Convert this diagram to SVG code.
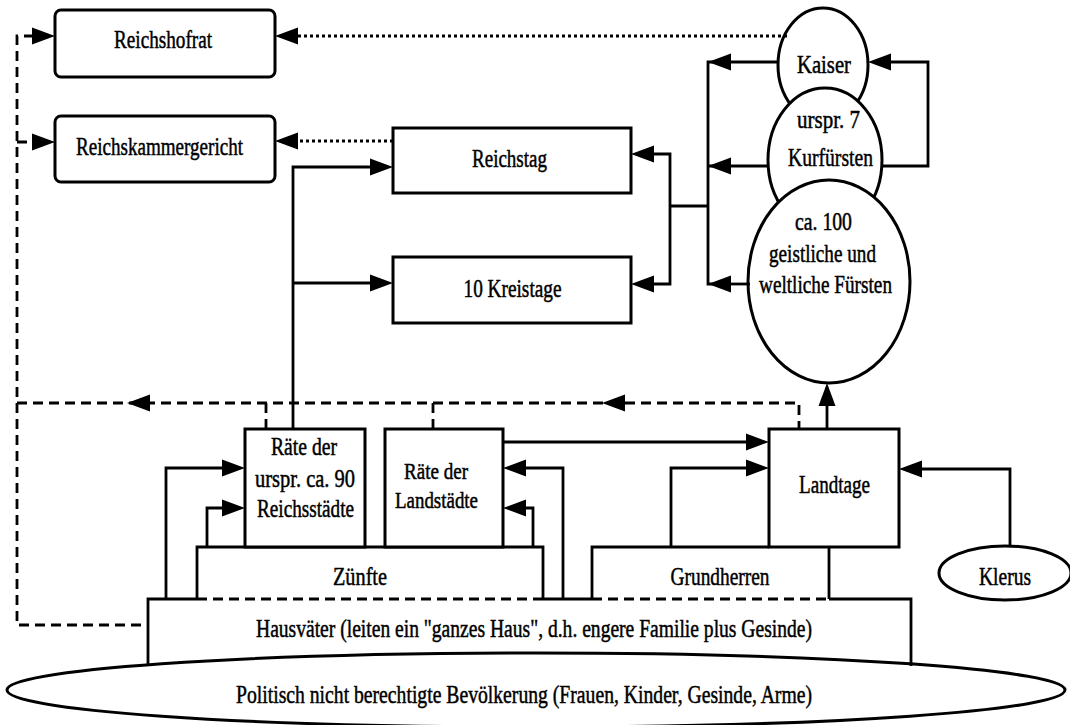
<svg xmlns="http://www.w3.org/2000/svg" xmlns:xlink="http://www.w3.org/1999/xlink" width="1070" height="725" viewBox="0 0 1070 725">
<style>
  .ln{fill:none;stroke:#000;stroke-width:2.8;stroke-linejoin:miter}
  .da{fill:none;stroke:#000;stroke-width:2.8;stroke-dasharray:10,6}
  .dt{fill:none;stroke:#000;stroke-width:2.8;stroke-dasharray:3,3}
  .bx{fill:#fff;stroke:#000;stroke-width:3}
  .t{font-family:"Liberation Serif","Times New Roman",serif;font-size:26px;fill:#000;stroke:#000;stroke-width:0.5;text-anchor:middle}
  .s{font-size:24px}
</style>
<defs>
  <path id="ah" d="M0,0 L-23,-8.5 L-23,8.5 Z" fill="#000"/>
</defs>
<rect width="1070" height="725" fill="#fff"/>

<g id="bevoelkerung">
  <ellipse cx="536" cy="690" rx="529" ry="37" class="bx"/>
  <text class="t" x="524" y="703" textLength="576" lengthAdjust="spacingAndGlyphs">Politisch nicht berechtigte Bevölkerung (Frauen, Kinder, Gesinde, Arme)</text>
</g>

<g id="hausvaeter">
  <path class="ln" d="M148,665 V599 H197"/>
  <path class="da" d="M197,599 H543"/>
  <path class="ln" d="M543,599 H592"/>
  <path class="da" d="M592,599 H829"/>
  <path class="ln" d="M829,599 H911 V666"/>
  <text class="t" x="534" y="637" textLength="556" lengthAdjust="spacingAndGlyphs">Hausväter (leiten ein "ganzes Haus", d.h. engere Familie plus Gesinde)</text>
</g>

<g id="zuenfte">
  <path class="ln" d="M197,599 V547 H543 V599"/>
  <text class="t" x="360" y="585" textLength="54" lengthAdjust="spacingAndGlyphs">Zünfte</text>
</g>

<g id="grundherren">
  <path class="ln" d="M592,599 V547 H769 M829,547 V599"/>
  <text class="t" x="720" y="585" textLength="99" lengthAdjust="spacingAndGlyphs">Grundherren</text>
</g>

<g id="reichsstaedte">
  <rect x="245" y="429" width="120" height="118" class="bx"/>
  <text class="t" x="304" y="455" textLength="66" lengthAdjust="spacingAndGlyphs">Räte der</text>
  <text class="t" x="305" y="487" textLength="100" lengthAdjust="spacingAndGlyphs">urspr. ca. 90</text>
  <text class="t" x="305.5" y="517" textLength="97" lengthAdjust="spacingAndGlyphs">Reichsstädte</text>
</g>

<g id="landstaedte">
  <rect x="385" y="429" width="118" height="118" class="bx"/>
  <text class="t s" x="436" y="479" textLength="64" lengthAdjust="spacingAndGlyphs">Räte der</text>
  <text class="t s" x="436.5" y="508" textLength="83" lengthAdjust="spacingAndGlyphs">Landstädte</text>
</g>

<g id="landtage">
  <rect x="769" y="429" width="130" height="118" class="bx"/>
  <text class="t" x="834.5" y="493" textLength="71" lengthAdjust="spacingAndGlyphs">Landtage</text>
</g>

<g id="klerus">
  <ellipse cx="1005" cy="573" rx="66" ry="27" class="bx"/>
  <text class="t" x="1005" y="585" textLength="52" lengthAdjust="spacingAndGlyphs">Klerus</text>
</g>

<g id="reichshofrat">
  <rect x="55" y="10" width="220" height="67" rx="6" class="bx"/>
  <text class="t" x="163" y="48" textLength="98" lengthAdjust="spacingAndGlyphs">Reichshofrat</text>
</g>

<g id="reichskammergericht">
  <rect x="55" y="116" width="220" height="66" rx="6" class="bx"/>
  <text class="t" x="159.5" y="155" textLength="167" lengthAdjust="spacingAndGlyphs">Reichskammergericht</text>
</g>

<g id="reichstag">
  <rect x="393" y="128" width="238" height="65" class="bx"/>
  <text class="t" x="509.5" y="167" textLength="75" lengthAdjust="spacingAndGlyphs">Reichstag</text>
</g>

<g id="kreistage">
  <rect x="393" y="257" width="238" height="66" class="bx"/>
  <text class="t" x="512.5" y="297" textLength="98" lengthAdjust="spacingAndGlyphs">10 Kreistage</text>
</g>

<g id="kaiser">
  <ellipse cx="823" cy="65" rx="45" ry="57" class="bx"/>
  <text class="t" x="824" y="73" textLength="54" lengthAdjust="spacingAndGlyphs">Kaiser</text>
</g>

<g id="kurfuersten">
  <ellipse cx="825" cy="160" rx="57" ry="72" class="bx"/>
  <text class="t" x="828.5" y="128" textLength="63" lengthAdjust="spacingAndGlyphs">urspr. 7</text>
  <text class="t" x="830.5" y="166" textLength="85" lengthAdjust="spacingAndGlyphs">Kurfürsten</text>
</g>

<g id="fuersten">
  <ellipse cx="829" cy="281.5" rx="81" ry="101.5" class="bx"/>
  <text class="t" x="823.5" y="230" textLength="57" lengthAdjust="spacingAndGlyphs">ca. 100</text>
  <text class="t" x="822.5" y="262" textLength="107" lengthAdjust="spacingAndGlyphs">geistliche und</text>
  <text class="t" x="825.5" y="293" textLength="133" lengthAdjust="spacingAndGlyphs">weltliche Fürsten</text>
</g>

<g id="connectors">
  <path class="da" d="M34,36 H17 V625 H148"/>
  <path class="da" d="M17,142 H34"/>
  <use xlink:href="#ah" transform="translate(55,36)"/>
  <use xlink:href="#ah" transform="translate(55,142)"/>
  <path class="da" d="M17,403 H799 V429"/>
  <path class="da" d="M266,403 V429"/>
  <path class="da" d="M433,403 V429"/>
  <use xlink:href="#ah" transform="translate(127,403) rotate(180)"/>
  <use xlink:href="#ah" transform="translate(602,403) rotate(180)"/>
  <path class="dt" d="M787,36 H297"/>
  <use xlink:href="#ah" transform="translate(275,36) rotate(180)"/>
  <path class="dt" d="M393,141 H297"/>
  <use xlink:href="#ah" transform="translate(275,141) rotate(180)"/>
  <path class="ln" d="M293,429 V167 H372"/>
  <path class="ln" d="M293,283 H372"/>
  <use xlink:href="#ah" transform="translate(393,167)"/>
  <use xlink:href="#ah" transform="translate(393,283)"/>
  <path class="ln" d="M652,154 H670 V284 H652"/>
  <path class="ln" d="M670,206 H708"/>
  <use xlink:href="#ah" transform="translate(631,154) rotate(180)"/>
  <use xlink:href="#ah" transform="translate(631,284) rotate(180)"/>
  <path class="ln" d="M730,62 H708 V284 H730"/>
  <path class="ln" d="M730,62 H779"/>
  <path class="ln" d="M708,166 H769"/>
  <path class="ln" d="M730,284 H750"/>
  <use xlink:href="#ah" transform="translate(708,62) rotate(180)"/>
  <use xlink:href="#ah" transform="translate(708,166) rotate(180)"/>
  <use xlink:href="#ah" transform="translate(708,284) rotate(180)"/>
  <path class="ln" d="M881,166 H928 V62 H890"/>
  <use xlink:href="#ah" transform="translate(868,62) rotate(180)"/>
  <path class="ln" d="M827,429 V404"/>
  <use xlink:href="#ah" transform="translate(827,383) rotate(-90)"/>
  <path class="ln" d="M1010,546 V469 H920"/>
  <use xlink:href="#ah" transform="translate(899,469) rotate(180)"/>
  <path class="ln" d="M503,442 H748"/>
  <use xlink:href="#ah" transform="translate(769,442)"/>
  <path class="ln" d="M671,547 V468 H748"/>
  <use xlink:href="#ah" transform="translate(769,468)"/>
  <path class="ln" d="M563,599 V468 H524"/>
  <use xlink:href="#ah" transform="translate(503,468) rotate(180)"/>
  <path class="ln" d="M533,547 V508 H524"/>
  <use xlink:href="#ah" transform="translate(503,508) rotate(180)"/>
  <path class="ln" d="M166,599 V468 H224"/>
  <use xlink:href="#ah" transform="translate(245,468)"/>
  <path class="ln" d="M207,547 V508 H224"/>
  <use xlink:href="#ah" transform="translate(245,508)"/>
</g>
</svg>
